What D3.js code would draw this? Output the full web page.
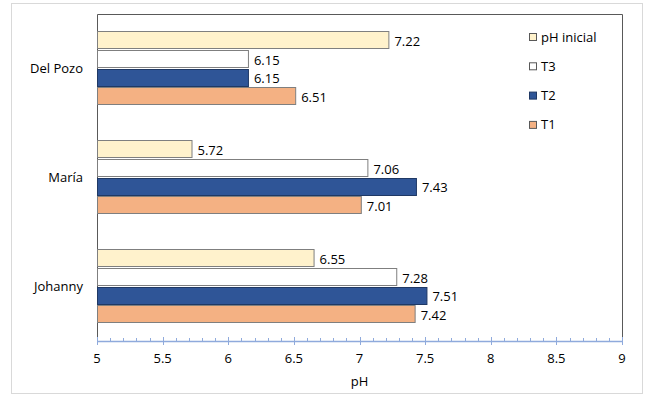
<!DOCTYPE html>
<html><head><meta charset="utf-8">
<script src="https://cdn.jsdelivr.net/npm/d3@7"></script>
<style>body{margin:0;background:#fff}svg{display:block}text{font-family:"Open Sans",sans-serif;font-size:13px;fill:#000}</style>
</head><body><svg id="c" width="653" height="399"></svg>
<script>
const categories = ["Del Pozo", "María", "Johanny"];
const seriesNames = ["pH inicial", "T3", "T2", "T1"];
const phInicial = [7.22, 5.72, 6.65];
const t3 = [6.15, 7.06, 7.28];
const t2 = [6.15, 7.43, 7.51];
const t1 = [6.51, 7.01, 7.42];
const phInicialLabels = ["7.22", "5.72", "6.55"];
const t3Labels = ["6.15", "7.06", "7.28"];
const t2Labels = ["6.15", "7.43", "7.51"];
const t1Labels = ["6.51", "7.01", "7.42"];
const xTicks = [5, 5.5, 6, 6.5, 7, 7.5, 8, 8.5, 9];

const seriesVals = [phInicial, t3, t2, t1];
const seriesLabels = [phInicialLabels, t3Labels, t2Labels, t1Labels];
const fills = ["#FFF2CC", "#FFFFFF", "#2F5597", "#F4B183"];
const strokes = ["#7F7F7F", "#7F7F7F", "#1F3864", "#7F7F7F"];

const svg = d3.select("#c");
svg.append("rect").attr("x",11.5).attr("y",3.5).attr("width",631).attr("height",390)
  .attr("fill","#fff").attr("stroke","#D9D9D9");

const L=97, R=622, T=14, B=341;
const x = d3.scaleLinear().domain([5,9]).range([L,R]);
const y = d3.scaleBand().domain(categories).range([T,B]).paddingInner(0.32).paddingOuter(0.16);
const yi = d3.scaleBand().domain(seriesNames).range([0,y.bandwidth()]).paddingInner(0.02);

svg.append("path").attr("d",`M${L+0.5},${B}V${T+0.5}H${R+0.5}V${B}`).attr("fill","none").attr("stroke","#595959");

const data = [];
categories.forEach((c,ci)=>seriesNames.forEach((s,si)=>data.push({c,s,v:seriesVals[si][ci],lab:seriesLabels[si][ci],si})));

svg.selectAll("rect.bar").data(data).enter().append("rect").attr("class","bar")
  .attr("x",L+0.5).attr("y",d=>Math.round(y(d.c)+yi(d.s))+0.5)
  .attr("width",d=>x(d.v)-L).attr("height",Math.round(yi.bandwidth())-1)
  .attr("fill",d=>fills[d.si]).attr("stroke",d=>strokes[d.si]);

svg.selectAll("text.val").data(data).enter().append("text").attr("class","val")
  .attr("x",d=>x(d.v)+6).attr("y",d=>y(d.c)+yi(d.s)+yi.bandwidth()/2+1).attr("dy","0.35em")
  .text(d=>d.lab);

svg.selectAll("text.cat").data(categories).enter().append("text")
  .attr("x",83).attr("y",d=>y(d)+y.bandwidth()/2).attr("dy","0.35em").attr("text-anchor","end").text(d=>d);

const ax = svg.append("g");
ax.append("line").attr("x1",L).attr("x2",R+1).attr("y1",B+0.5).attr("y2",B+0.5).attr("stroke","#8FAADC").attr("stroke-width",1.3);
const minor = d3.range(50,91).map(d=>d/10);
ax.selectAll("line.mn").data(minor).enter().append("line")
  .attr("x1",d=>Math.round(x(d))+0.5).attr("x2",d=>Math.round(x(d))+0.5).attr("y1",B-3).attr("y2",B).attr("stroke","#8FAADC");
ax.selectAll("line.mj").data(xTicks).enter().append("line")
  .attr("x1",d=>Math.round(x(d))+0.5).attr("x2",d=>Math.round(x(d))+0.5).attr("y1",B-4).attr("y2",B+4).attr("stroke","#8FAADC");
ax.selectAll("text.tk").data(xTicks).enter().append("text")
  .attr("x",d=>x(d)).attr("y",358).attr("dy","0.35em").attr("text-anchor","middle").text(d=>d);
svg.append("text").attr("x",x(7)).attr("y",381).attr("dy","0.35em").attr("text-anchor","middle").text("pH");

const lg = svg.selectAll("g.lg").data(seriesNames).enter().append("g").attr("transform",(d,i)=>`translate(529,${37+i*29.3})`);
lg.append("rect").attr("x",0.5).attr("y",-3.5).attr("width",7).attr("height",7)
  .attr("fill",(d,i)=>fills[i]).attr("stroke",(d,i)=>i===2?"#1F3864":"#595959");
lg.append("text").attr("x",12).attr("y",0).attr("dy","0.35em").text(d=>d);
</script></body></html>
